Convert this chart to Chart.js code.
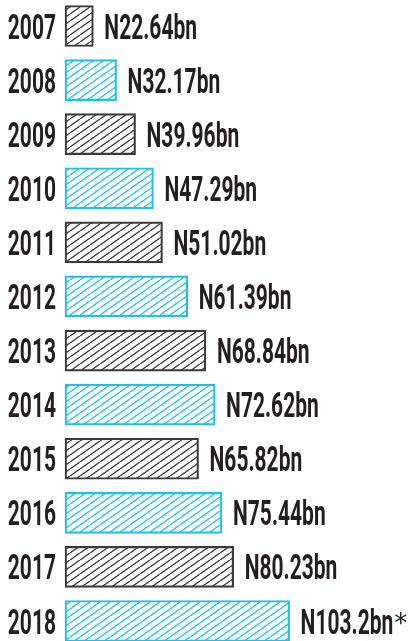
<!DOCTYPE html>
<html>
<head>
<meta charset="utf-8">
<script src="https://cdn.jsdelivr.net/npm/chart.js@4"></script>
<style>
  html, body { margin: 0; padding: 0; background: #ffffff; }
  #chart { display: block; }
</style>
</head>
<body>
<canvas id="chart" width="420" height="641"></canvas>
<script>
// values
const years = ['2007', '2008', '2009', '2010', '2011', '2012', '2013', '2014', '2015', '2016', '2017', '2018'];
const revenue = [22.64, 32.17, 39.96, 47.29, 51.02, 61.39, 68.84, 72.62, 65.82, 75.44, 80.23, 103.2];
const notes = ['', '', '', '', '', '', '', '', '', '', '', '*'];

// the original bars are not drawn from zero, axis starts a bit above it
const X_MIN = 11;
const X_MAX = 144;

const DARK = '#3b3b3b';
const CYAN = '#22bfe5';
const TEXT = '#231f20';
const SQUEEZE = 0.6;

// diagonal hatch fill for the bars
function makeHatch(color) {
    const w = 10, h = 7;
    const tile = document.createElement('canvas');
    tile.width = w;
    tile.height = h;
    const t = tile.getContext('2d');
    t.strokeStyle = color;
    t.lineWidth = 1.4;
    t.beginPath();
    for (let k = -1; k <= 1; k++) {
        t.moveTo(k * w, h);
        t.lineTo(k * w + w, 0);
    }
    t.stroke();
    return t.createPattern(tile, 'repeat');
}

const canvas = document.getElementById('chart');
const ctx = canvas.getContext('2d');
const hatchDark = makeHatch(DARK);
const hatchCyan = makeHatch(CYAN);

const fills = years.map((y, i) => i % 2 === 0 ? hatchDark : hatchCyan);
const borders = years.map((y, i) => i % 2 === 0 ? DARK : CYAN);

function drawSqueezed(c, text, x, y, align) {
    c.save();
    c.translate(x, y);
    c.scale(SQUEEZE, 1);
    c.textAlign = align;
    c.fillText(text, 0, 0);
    c.restore();
}

const labelPlugin = {
    id: 'labels',
    afterDatasetsDraw(chart) {
        const c = chart.ctx;
        const meta = chart.getDatasetMeta(0);
        c.save();
        c.fillStyle = TEXT;
        c.font = 'bold 35px Roboto';
        c.textBaseline = 'alphabetic';
        meta.data.forEach((bar, i) => {
            const yBase = bar.y + 12.5;
            // year on the left of the bar
            drawSqueezed(c, years[i], bar.base - 9, yBase, 'right');
            // value after the bar
            const label = 'N' + revenue[i] + 'bn';
            const x0 = bar.x + 11;
            drawSqueezed(c, label, x0, yBase, 'left');
            if (notes[i]) {
                const w = c.measureText(label).width * SQUEEZE;
                c.save();
                c.font = '26px "DejaVu Sans"';
                c.textAlign = 'left';
                c.fillText(notes[i], x0 + w + 1, yBase - 2);
                c.restore();
            }
        });
        c.restore();
    }
};

new Chart(ctx, {
    type: 'bar',
    data: {
        labels: years,
        datasets: [{
            data: revenue,
            base: X_MIN,
            backgroundColor: fills,
            borderColor: borders,
            borderWidth: 1.5,
            borderSkipped: false,
            barThickness: 41,
            clip: false
        }]
    },
    options: {
        indexAxis: 'y',
        responsive: false,
        animation: false,
        layout: { padding: { left: 65, right: 31, top: 26, bottom: 20 } },
        scales: {
            x: { display: false, min: X_MIN, max: X_MAX, beginAtZero: false },
            y: { display: false, offset: false }
        },
        plugins: {
            legend: { display: false },
            tooltip: { enabled: false }
        }
    },
    plugins: [labelPlugin]
});
</script>
</body>
</html>
